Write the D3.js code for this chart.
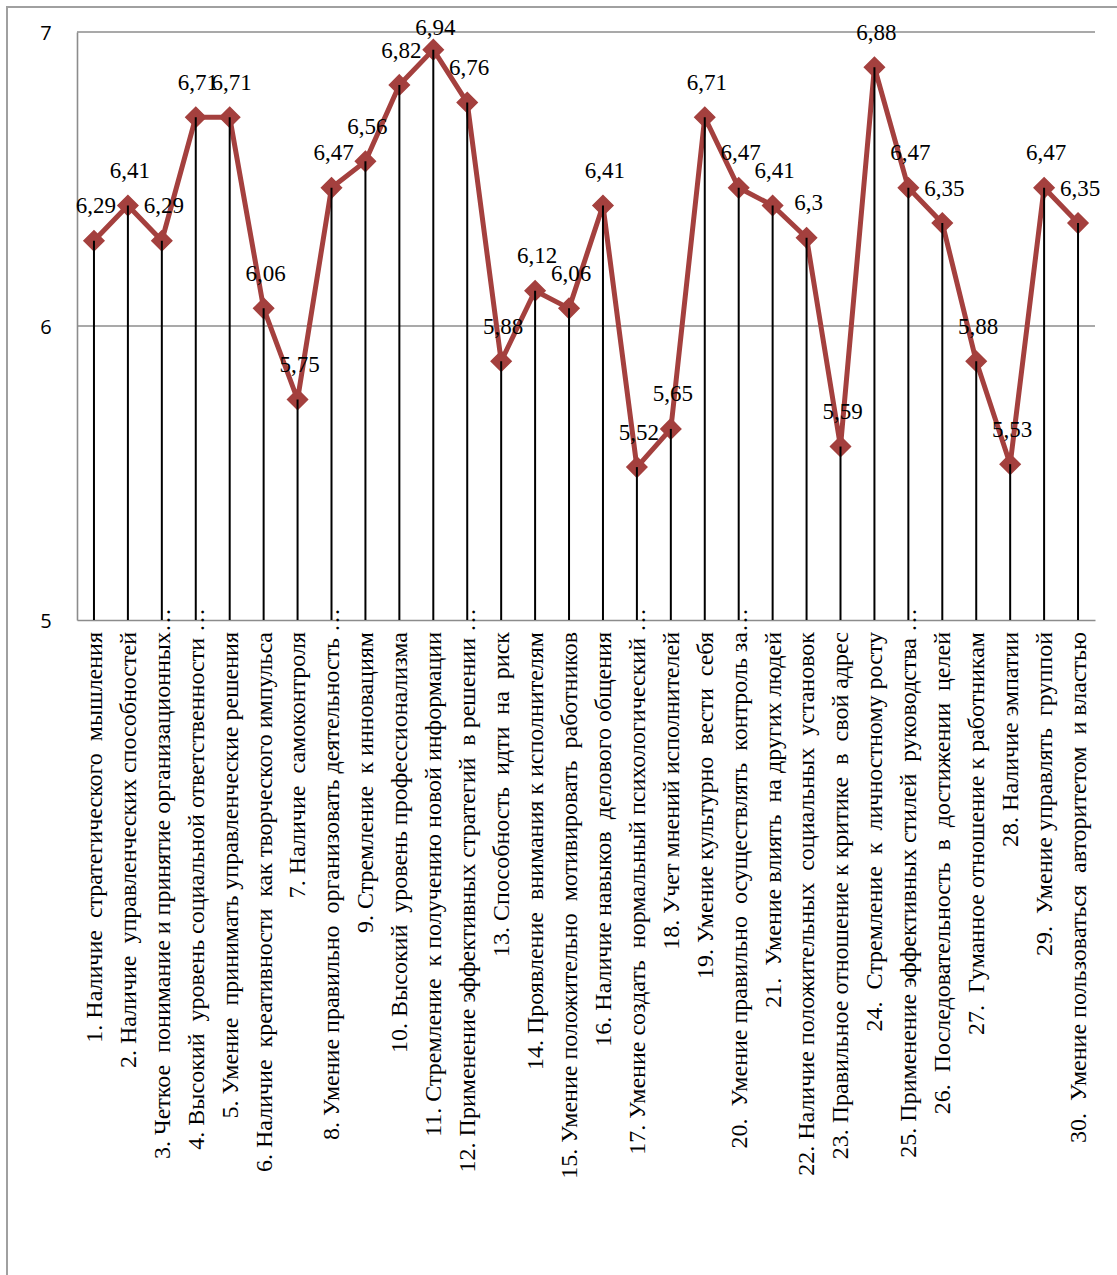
<!DOCTYPE html>
<html>
<head>
<meta charset="utf-8">
<script src="https://cdn.jsdelivr.net/npm/d3@7"></script>
<style>
  html, body { margin: 0; padding: 0; background: #fff; }
  svg { display: block; }
  .cat { white-space: pre; }
</style>
</head>
<body>
<svg id="chart" width="1117" height="1275"></svg>
<script>
// Competence names (x categories)
const categories = [
  "1. Наличие  стратегического  мышления",
  "2. Наличие  управленческих способностей",
  "3. Четкое  понимание и принятие организационных…",
  "4. Высокий  уровень социальной ответственности …",
  "5. Умение  принимать управленческие решения",
  "6. Наличие  креативности  как творческого импульса",
  "7. Наличие  самоконтроля",
  "8. Умение правильно  организовать деятельность …",
  "9. Стремление  к инновациям",
  "10. Высокий  уровень профессионализма",
  "11. Стремление  к получению новой информации",
  "12. Применение эффективных стратегий  в решении …",
  "13. Способность  идти  на  риск",
  "14. Проявление  внимания к исполнителям",
  "15. Умение положительно  мотивировать  работников",
  "16. Наличие навыков  делового общения",
  "17. Умение создать  нормальный психологический …",
  "18. Учет мнений исполнителей",
  "19. Умение культурно  вести  себя",
  "20.  Умение правильно  осуществлять  контроль за…",
  "21.  Умение влиять  на других людей",
  "22. Наличие положительных  социальных  установок",
  "23. Правильное отношение к критике  в  свой адрес",
  "24.  Стремление  к  личностному росту",
  "25. Применение эффективных стилей  руководства …",
  "26.  Последовательность  в  достижении  целей",
  "27.  Гуманное отношение к работникам",
  "28. Наличие эмпатии",
  "29.  Умение управлять  группой",
  "30.  Умение пользоваться  авторитетом  и властью"
];

// Average score for each competence
const scores = [
  6.29, 6.41, 6.29, 6.71, 6.71, 6.06, 5.75, 6.47, 6.56, 6.82,
  6.94, 6.76, 5.88, 6.12, 6.06, 6.41, 5.52, 5.65, 6.71, 6.47,
  6.41, 6.3, 5.59, 6.88, 6.47, 6.35, 5.88, 5.53, 6.47, 6.35
];

// Value axis
const yDomain = [5, 7];
const yTicks = [5, 6, 7];

const fmt = v => String(v).replace(".", ",");

const svg = d3.select("#chart");
const plot = { left: 77, right: 1095, top: 32, bottom: 620 };
const lineColor = "#A4403E";
const serif = "'Liberation Serif', 'Times New Roman', serif";

// Outer frame
svg.append("rect")
  .attr("x", 7).attr("y", 7)
  .attr("width", 1130).attr("height", 1290)
  .attr("fill", "none")
  .attr("stroke", "#a0a0a0")
  .attr("stroke-width", 2);

const x = d3.scaleBand()
  .domain(d3.range(categories.length))
  .range([plot.left, plot.right])
  .padding(0);
const cx = i => x(i) + x.bandwidth() / 2;

const y = d3.scaleLinear().domain(yDomain).range([plot.bottom, plot.top]);

// Horizontal gridlines
svg.append("g")
  .selectAll("line")
  .data(yTicks.filter(t => t > yDomain[0]))
  .join("line")
  .attr("x1", plot.left).attr("x2", plot.right)
  .attr("y1", d => y(d)).attr("y2", d => y(d))
  .attr("stroke", "#8c8c8c")
  .attr("stroke-width", 1.6);

// Value axis
const yAxis = d3.axisLeft(y).tickValues(yTicks).tickSize(0).tickPadding(26).tickFormat(d => d);
const yg = svg.append("g").attr("transform", `translate(${plot.left},0)`).call(yAxis);
yg.select(".domain").attr("stroke", "#8c8c8c").attr("stroke-width", 1.6);
yg.selectAll("text")
  .attr("font-family", "'Open Sans', 'Noto Sans', sans-serif")
  .attr("font-size", 20)
  .attr("fill", "#000")
  .attr("text-anchor", "middle")
  .attr("x", 46 - plot.left)
  .attr("dy", "0.35em");

// Category axis
const xAxis = d3.axisBottom(x).tickSize(0).tickFormat("");
const xg = svg.append("g").attr("transform", `translate(0,${plot.bottom})`).call(xAxis);
xg.select(".domain").attr("stroke", "#8c8c8c").attr("stroke-width", 1.6);

// Rotated category labels, reading bottom to top
const catFont = 24;
const labels = svg.append("g")
  .selectAll("text")
  .data(categories)
  .join("text")
  .attr("class", "cat")
  .attr("font-family", serif)
  .attr("font-size", catFont)
  .attr("fill", "#000")
  .attr("text-anchor", "end")
  .attr("dy", "0.33em");
labels.each(function (d, i) {
  const t = d3.select(this);
  const trunc = d.endsWith("…");
  const main = trunc ? d.slice(0, -1) : d;
  t.append("tspan").text(main);
  let shift = 0;
  if (trunc) {
    const e = t.append("tspan").text("…");
    shift = e.node().getComputedTextLength();
  }
  t.attr("transform", `translate(${cx(i)},${plot.bottom + 12 - shift}) rotate(-90)`);
});

// Series line
const line = d3.line().x((d, i) => cx(i)).y(d => y(d));
svg.append("path")
  .datum(scores)
  .attr("d", line)
  .attr("fill", "none")
  .attr("stroke", lineColor)
  .attr("stroke-width", 5)
  .attr("stroke-linejoin", "round");

// Diamond markers
const diamond = "M0,-10L10,0L0,10L-10,0Z";
svg.append("g")
  .selectAll("path")
  .data(scores)
  .join("path")
  .attr("d", diamond)
  .attr("transform", (d, i) => `translate(${cx(i)},${y(d)})`)
  .attr("fill", lineColor)
  .attr("stroke", lineColor)
  .attr("stroke-width", 1.5);

// Drop lines from each point to the category axis
svg.append("g")
  .selectAll("line")
  .data(scores)
  .join("line")
  .attr("x1", (d, i) => cx(i)).attr("x2", (d, i) => cx(i))
  .attr("y1", d => y(d)).attr("y2", plot.bottom)
  .attr("stroke", "#000")
  .attr("stroke-width", 2);

// Value labels above points, kept inside the frame
svg.append("g")
  .selectAll("text")
  .data(scores)
  .join("text")
  .attr("font-family", serif)
  .attr("font-size", 23)
  .attr("fill", "#000")
  .attr("text-anchor", "middle")
  .attr("x", (d, i) => cx(i) + 2)
  .attr("y", d => Math.max(y(d) - 35, 27))
  .attr("dy", "0.33em")
  .text(d => fmt(d));
</script>
</body>
</html>
